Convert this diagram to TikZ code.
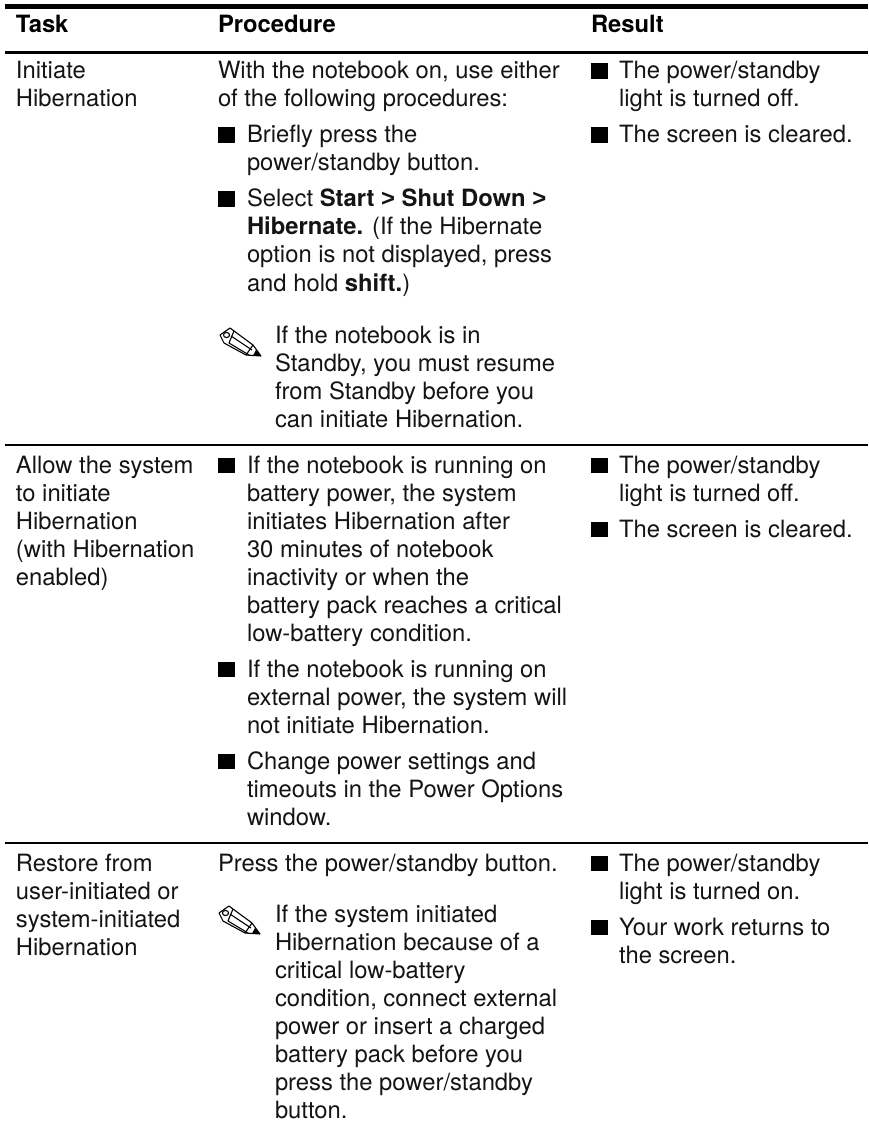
\documentclass[tikz,border=0pt]{standalone}
\usepackage{fontspec}
\setmainfont{TeX Gyre Heros}
\newfontfamily\gtfont{Liberation Sans}
\tikzset{
  x=1pt,y=-1pt,
  txt/.style={anchor=base west,inner sep=0pt,outer sep=0pt,font=\fontsize{23.8}{28}\selectfont,text=black!92},
  hd/.style={txt,font=\fontsize{23.8}{28}\selectfont\bfseries,text=black},
  rowrule/.style={line width=1.2pt,black},
  pen/.style={line width=1.1pt,black,line join=round}
}
\newcommand{\penicon}[2]{%
  \begin{scope}[shift={(#1,#2)}]
    \draw[pen] (0,7) -- (10,0) -- (14,3) -- (33,17) -- (41,28) -- (26,27) -- (4,15) -- cycle;
    \draw[pen] (14,3) -- (9,15) -- (29,27);
    \draw[pen] (33,17) -- (26,27);
    \draw[pen] (11,8) -- (32,22);
    \fill[black] (36,22) -- (41,28) -- (33,27.5) -- cycle;
    \draw[pen] (6.5,7) ellipse [x radius=3,y radius=2.6];
  \end{scope}}
\newcommand{\bulletat}[2]{\fill[black] (#1,#2-15.5) rectangle (#1+17,#2);}
\newcommand{\gt}{{\gtfont\bfseries >}}
\begin{document}
\begin{tikzpicture}
\useasboundingbox (0,0) rectangle (868,1131);
\fill[white] (0,0) rectangle (868,1131);
\fill (5,4) rectangle (868,9.5);
\fill (5,50.8) rectangle (868,54);
\draw[rowrule] (5,445) -- (868,445);
\draw[rowrule] (5,843) -- (868,843);
\node[hd] (h1) at (16,33) {Task};
\node[hd] (h2) at (218,33) {Procedure};
\node[hd] (h3) at (591,33) {Result};
% row 1
\node[txt] at (16,79) {Initiate};
\node[txt] at (16,107) {Hibernation};
\node[txt] at (218,79) {With the notebook on, use either};
\node[txt] at (218,107) {of the following procedures:};
\bulletat{218}{143}
\node[txt] at (247,143) {Briefly press the};
\node[txt] at (247,171) {power/standby button.};
\bulletat{218}{207}
\node[txt] at (247,207) {Select \textbf{Start \gt{} Shut Down \gt}};
\node[txt] at (247,235) {\textbf{Hibernate.} (If the Hibernate};
\node[txt] at (247,263) {option is not displayed, press};
\node[txt] at (247,291) {and hold \textbf{shift.})};
\penicon{220}{328}
\node[txt] at (275,343) {If the notebook is in};
\node[txt] at (275,371) {Standby, you must resume};
\node[txt] at (275,399) {from Standby before you};
\node[txt] at (275,427) {can initiate Hibernation.};
\bulletat{591}{79}
\node[txt] at (619,79) {The power/standby};
\node[txt] at (619,107) {light is turned off.};
\bulletat{591}{143}
\node[txt] at (619,143) {The screen is cleared.};
% row 2
\node[txt] at (16,473) {Allow the system};
\node[txt] at (16,501) {to initiate};
\node[txt] at (16,529) {Hibernation};
\node[txt] at (16,557) {(with Hibernation};
\node[txt] at (16,585) {enabled)};
\bulletat{218}{473}
\node[txt] at (247,473) {If the notebook is running on};
\node[txt] at (247,501) {battery power, the system};
\node[txt] at (247,529) {initiates Hibernation after};
\node[txt] at (247,557) {30 minutes of notebook};
\node[txt] at (247,585) {inactivity or when the};
\node[txt] at (247,613) {battery pack reaches a critical};
\node[txt] at (247,641) {low-battery condition.};
\bulletat{218}{677}
\node[txt] at (247,677) {If the notebook is running on};
\node[txt] at (247,705) {external power, the system will};
\node[txt] at (247,733) {not initiate Hibernation.};
\bulletat{218}{769}
\node[txt] at (247,769) {Change power settings and};
\node[txt] at (247,797) {timeouts in the Power Options};
\node[txt] at (247,825) {window.};
\bulletat{591}{473}
\node[txt] at (619,473) {The power/standby};
\node[txt] at (619,501) {light is turned off.};
\bulletat{591}{537}
\node[txt] at (619,537) {The screen is cleared.};
% row 3
\node[txt] at (16,871) {Restore from};
\node[txt] at (16,899) {user-initiated or};
\node[txt] at (16,927) {system-initiated};
\node[txt] at (16,955) {Hibernation};
\node[txt] at (218,871) {Press the power/standby button.};
\penicon{219}{906}
\node[txt] at (275,922) {If the system initiated};
\node[txt] at (275,950) {Hibernation because of a};
\node[txt] at (275,978) {critical low-battery};
\node[txt] at (275,1006) {condition, connect external};
\node[txt] at (275,1034) {power or insert a charged};
\node[txt] at (275,1062) {battery pack before you};
\node[txt] at (275,1090) {press the power/standby};
\node[txt] at (275,1118) {button.};
\bulletat{591}{871}
\node[txt] at (619,871) {The power/standby};
\node[txt] at (619,899) {light is turned on.};
\bulletat{591}{935}
\node[txt] at (619,935) {Your work returns to};
\node[txt] at (619,963) {the screen.};
\end{tikzpicture}
\end{document}
